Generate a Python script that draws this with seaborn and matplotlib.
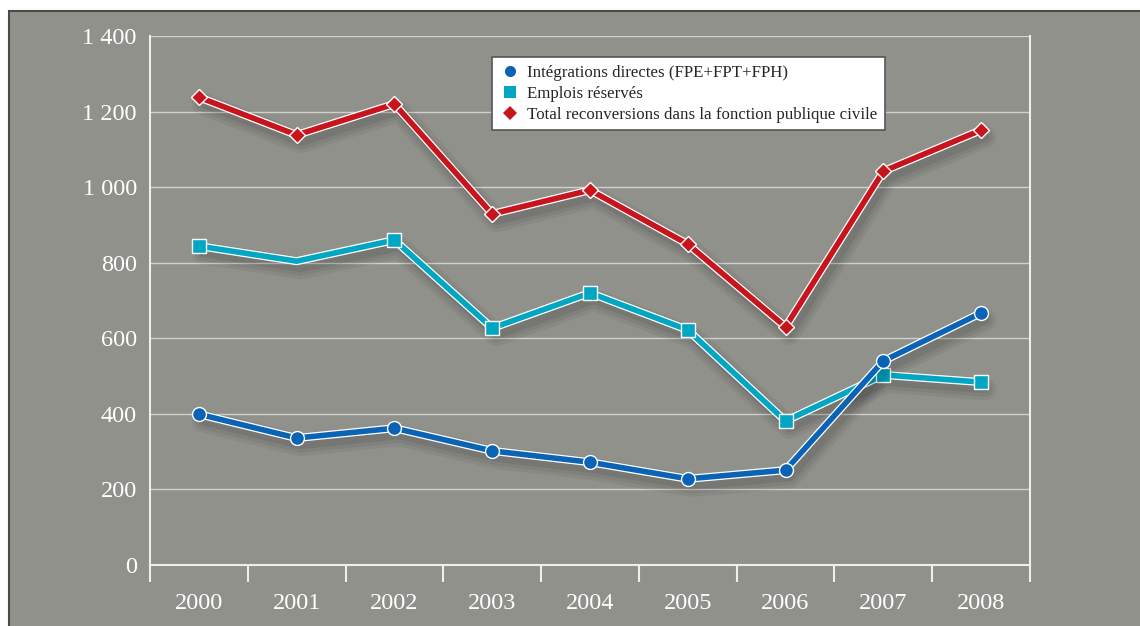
import matplotlib
matplotlib.use("Agg")
import matplotlib.pyplot as plt
import matplotlib.patheffects as pe
from matplotlib.lines import Line2D
from matplotlib.patches import Rectangle
from matplotlib.ticker import FuncFormatter
import pandas as pd
import seaborn as sns

years = [2000, 2001, 2002, 2003, 2004, 2005, 2006, 2007, 2008]
integrations = [399, 336, 362, 302, 272, 228, 251, 540, 667]
emplois = [844, 804, 860, 627, 720, 622, 381, 503, 484]
total = [1238, 1138, 1220, 929, 992, 849, 630, 1042, 1151]

labels = [
    "Intégrations directes (FPE+FPT+FPH)",
    "Emplois réservés",
    "Total reconversions dans la fonction publique civile",
]
colors = ["#0a63b5", "#00a6c2", "#c8141d"]
markers = ["o", "s", "D"]
marker_sizes = [10, 9.5, 8]
# the 2001 point of "Emplois réservés" has no marker in the original
mark_every = [None, [0, 2, 3, 4, 5, 6, 7, 8], None]

BG = "#91918c"
FONT = "Liberation Serif"

sns.set_theme(style="white")
plt.rcParams["font.family"] = [FONT, "DejaVu Serif"]

fig = plt.figure(figsize=(11.4, 6.26), dpi=100)
fig.patch.set_facecolor("white")
panel = Rectangle((9 / 1140, -0.01), 1.02, (626 - 11) / 626 + 0.01,
                  transform=fig.transFigure, facecolor=BG,
                  edgecolor="#4a4a48", linewidth=1.5, zorder=-5)
fig.patches.append(panel)

ax = fig.add_axes([150 / 1140, (626 - 565) / 626, 880 / 1140, 529 / 626])
ax.set_facecolor("none")

series = [integrations, emplois, total]
for i in [2, 1, 0]:
    df = pd.DataFrame({"year": years, "value": series[i]})
    z = 3 + 2 * (2 - i)
    # line with white outline and soft shadow
    sns.lineplot(data=df, x="year", y="value", ax=ax, color=colors[i],
                 linewidth=4, zorder=z,
                 path_effects=[pe.SimpleLineShadow(offset=(3, -5), shadow_color="black", alpha=0.05, linewidth=16),
                               pe.SimpleLineShadow(offset=(3, -5), shadow_color="black", alpha=0.06, linewidth=11),
                               pe.SimpleLineShadow(offset=(3, -5), shadow_color="black", alpha=0.07, linewidth=6),
                               pe.Stroke(linewidth=5.8, foreground="white"),
                               pe.Normal()])
    # markers with a thin white edge
    sns.lineplot(data=df, x="year", y="value", ax=ax, color=colors[i],
                 linestyle="none", marker=markers[i], markersize=marker_sizes[i],
                 markeredgecolor="white", markeredgewidth=1.0,
                 markevery=mark_every[i], zorder=z + 1)

ax.set_xlim(1999.5, 2008.5)
ax.set_ylim(0, 1400)
ax.set_xlabel("")
ax.set_ylabel("")

ax.set_yticks(range(0, 1401, 200))
ax.yaxis.set_major_formatter(FuncFormatter(lambda v, p: f"{int(v):,}".replace(",", " ")))
ax.tick_params(axis="y", length=0, pad=9.5, labelsize=17.5, labelcolor="white")
for v in range(200, 1401, 200):
    ax.axhline(v, color="#d0d0cc", linewidth=1.0, zorder=1)

ax.set_xticks([y - 0.5 for y in years] + [2008.5])
ax.set_xticklabels([])
ax.set_xticks(years, minor=True)
ax.set_xticklabels([str(y) for y in years], minor=True)
ax.tick_params(axis="x", which="major", direction="out", length=12, width=1.5, color="#eeeeea", bottom=True)
ax.tick_params(axis="x", which="minor", length=0, pad=20, labelsize=17.5, labelcolor="white")

for side in ["left", "bottom", "right"]:
    ax.spines[side].set_visible(True)
    ax.spines[side].set_color("#eeeeea")
    ax.spines[side].set_linewidth(1.5)
ax.spines["top"].set_visible(False)

handles = [Line2D([], [], linestyle="none", marker=markers[i], color=colors[i],
                  markersize=[8, 8, 7][i], markeredgewidth=0) for i in range(3)]
leg = fig.legend(handles, labels, loc="upper left", bbox_to_anchor=(492 / 1140, 1 - 57 / 626),
                 borderaxespad=0, frameon=True, fancybox=False, framealpha=1, facecolor="white",
                 edgecolor="#555555", fontsize=12.2, handletextpad=0.4, labelspacing=0.3,
                 borderpad=0.45, handlelength=1.2)
leg.get_frame().set_linewidth(1.2)

fig.savefig("out.png", dpi=100)
